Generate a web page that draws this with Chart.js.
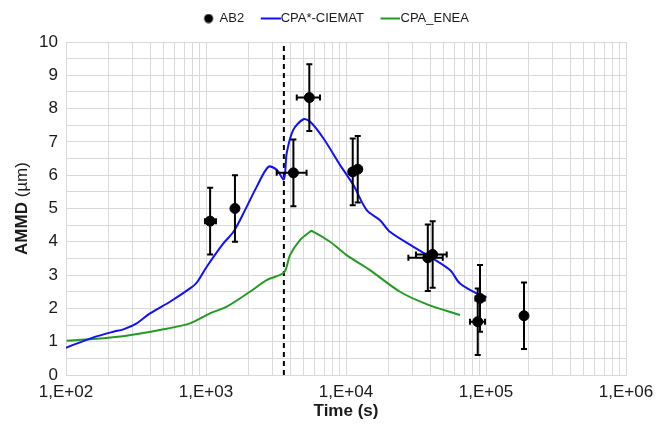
<!DOCTYPE html>
<html>
<head>
<meta charset="utf-8">
<script src="https://cdn.jsdelivr.net/npm/chart.js@4.4.0/dist/chart.umd.min.js"></script>
<style>
	html, body { margin: 0; padding: 0; background: #fff; }
	#wrap { width: 670px; height: 431px; }
</style>
</head>
<body>
<div id="wrap"><canvas id="ammd-chart" width="670" height="431"></canvas></div>
<script>
// AB2 measurements (time in s, AMMD in µm)
const ab2Time = [1070, 1610, 4210, 5470, 11170, 12130, 38400, 41600, 90600, 87300, 186800];
const ab2Ammd = [4.62, 5.0, 6.07, 8.33, 6.10, 6.18, 3.52, 3.62, 2.30, 1.60, 1.78];
const ab2AmmdErr = [1.0, 1.0, 1.0, 1.0, 1.0, 1.0, 1.0, 1.0, 1.0, 1.0, 1.0];
const ab2TimeLow = [984, 1610, 3200, 4450, 10500, 11400, 27900, 31600, 84000, 76900, 186800];
const ab2TimeHigh = [1178, 1610, 5230, 6520, 11900, 12900, 49100, 52400, 98000, 98400, 186800];

// CPA*-CIEMAT
const ciematTime = [100, 157, 218, 257, 320, 398, 553, 769, 857, 1012, 1330, 1570, 1900, 2300, 2790,
	3200, 3600, 3770, 4200, 4960, 5530, 6890, 9060, 11270, 14060, 17500, 20600, 30300, 39800,
	55300, 65200, 90600, 101000];
const ciematAmmd = [0.82, 1.13, 1.30, 1.37, 1.55, 1.85, 2.20, 2.60, 2.77, 3.25, 3.95, 4.30, 4.95, 5.65, 6.25,
	6.16, 5.88, 6.66, 7.36, 7.68, 7.61, 7.11, 6.31, 5.71, 4.95, 4.65, 4.30, 3.85, 3.55,
	3.15, 2.75, 2.40, 2.33];

// CPA_ENEA
const eneaTime = [101, 157, 271, 469, 769, 1068, 1406, 2060, 2710, 3610, 3980, 4690, 5530, 5690,
	7690, 10100, 14840, 24300, 37600, 65200];
const eneaAmmd = [1.03, 1.08, 1.18, 1.35, 1.55, 1.85, 2.05, 2.50, 2.85, 3.08, 3.60, 4.05, 4.30, 4.33,
	4.00, 3.60, 3.15, 2.50, 2.13, 1.80];

// vertical dashed marker
const markerTime = 3600;
const markerRange = [0, 10];

// axes
const timeDecades = [100, 1000, 10000, 100000, 1000000];
const timeLabels = ['1,E+02', '1,E+03', '1,E+04', '1,E+05', '1,E+06'];
const timeMinor = [2, 3, 4, 5, 6, 7, 8, 9];
const yTitleBold = 'AMMD ';
const yTitleUnit = '(µm)';

const timeTicks = [];
timeDecades.forEach(function (d, i) {
	timeTicks.push(d);
	if (i < timeDecades.length - 1) {
		timeMinor.forEach(function (m) { timeTicks.push(d * m); });
	}
});

const toPoints = (xs, ys) => xs.map((x, i) => ({ x: x, y: ys[i] }));

const fontFamily = "'Liberation Sans', Arial, sans-serif";
const textColor = '#1a1a1a';
const gridColor = '#d9d9d9';

// legend markers
function legendMark(kind, color) {
	const c = document.createElement('canvas');
	c.width = 33;
	c.height = 10;
	const g = c.getContext('2d');
	g.fillStyle = color;
	if (kind === 'dot') {
		g.beginPath();
		g.arc(22, 5, 4.5, 0, Math.PI * 2);
		g.fill();
	} else {
		g.fillRect(13, 4, 20, 2);
	}
	return c;
}
const legendMarks = [legendMark('dot', '#000'), legendMark('line', '#1010ff'), legendMark('line', '#239b23')];

// Error bars for AB2
const errorBars = {
	id: 'errorBars',
	afterDatasetsDraw(chart) {
		const { ctx } = chart;
		const x = chart.scales.x;
		const y = chart.scales.y;
		ctx.save();
		ctx.strokeStyle = '#000';
		ctx.lineWidth = 2;
		ab2Time.forEach(function (t, i) {
			const px = x.getPixelForValue(t);
			const py = y.getPixelForValue(ab2Ammd[i]);
			const top = y.getPixelForValue(ab2Ammd[i] + ab2AmmdErr[i]);
			const bottom = y.getPixelForValue(ab2Ammd[i] - ab2AmmdErr[i]);
			ctx.beginPath();
			ctx.moveTo(px, top); ctx.lineTo(px, bottom);
			ctx.moveTo(px - 3, top); ctx.lineTo(px + 3, top);
			ctx.moveTo(px - 3, bottom); ctx.lineTo(px + 3, bottom);
			if (ab2TimeLow[i] < ab2TimeHigh[i]) {
				const left = x.getPixelForValue(ab2TimeLow[i]);
				const right = x.getPixelForValue(ab2TimeHigh[i]);
				ctx.moveTo(left, py); ctx.lineTo(right, py);
				ctx.moveTo(left, py - 3); ctx.lineTo(left, py + 3);
				ctx.moveTo(right, py - 3); ctx.lineTo(right, py + 3);
			}
			ctx.stroke();
		});
		ctx.restore();
	},
};

// y axis title: bold name, regular unit
const yTitle = {
	id: 'yTitle',
	afterDraw(chart) {
		const { ctx, chartArea } = chart;
		const cy = (chartArea.top + chartArea.bottom) / 2;
		ctx.save();
		ctx.translate(22, cy);
		ctx.rotate(-Math.PI / 2);
		ctx.fillStyle = textColor;
		ctx.textBaseline = 'middle';
		ctx.textAlign = 'left';
		ctx.font = 'bold 17px ' + fontFamily;
		const wBold = ctx.measureText(yTitleBold).width;
		ctx.font = '17px ' + fontFamily;
		const wUnit = ctx.measureText(yTitleUnit).width;
		const start = -(wBold + wUnit) / 2;
		ctx.font = 'bold 17px ' + fontFamily;
		ctx.fillText(yTitleBold, start, 0);
		ctx.font = '17px ' + fontFamily;
		ctx.fillText(yTitleUnit, start + wBold, 0);
		ctx.restore();
	},
};

// Legend spacing / placement
const legendTweak = {
	id: 'legendTweak',
	afterInit(chart) {
		if (!chart.legend) return;
		const originalFit = chart.legend.fit;
		chart.legend.fit = function () {
			originalFit.call(this);
			this.height += 7;
		};
	},
	afterLayout(chart) {
		if (!chart.legend) return;
		chart.legend.left += 18;
		chart.legend.right += 18;
	},
};

const ctx = document.getElementById('ammd-chart');

new Chart(ctx, {
	type: 'line',
	data: {
		datasets: [
			{
				label: 'AB2',
				data: toPoints(ab2Time, ab2Ammd),
				showLine: false,
				pointStyle: 'circle',
				pointRadius: 5,
				pointBackgroundColor: '#000',
				pointBorderColor: '#000',
				borderColor: '#000',
				backgroundColor: '#000',
			},
			{
				label: 'CPA*-CIEMAT',
				data: toPoints(ciematTime, ciematAmmd),
				borderColor: '#1010ff',
				backgroundColor: '#1010ff',
				borderWidth: 2,
				pointRadius: 0,
				tension: 0.3,
				fill: false,
			},
			{
				label: 'CPA_ENEA',
				data: toPoints(eneaTime, eneaAmmd),
				borderColor: '#239b23',
				backgroundColor: '#239b23',
				borderWidth: 2,
				pointRadius: 0,
				tension: 0.3,
				fill: false,
			},
			{
				label: 'marker',
				data: markerRange.map(v => ({ x: markerTime, y: v })),
				borderColor: '#000',
				borderWidth: 2,
				borderDash: [5, 4],
				pointRadius: 0,
				fill: false,
			},
		],
	},
	plugins: [errorBars, legendTweak, yTitle],
	options: {
		responsive: false,
		animation: false,
		devicePixelRatio: 1,
		layout: {
			padding: { top: 2, right: 44, bottom: 0, left: 0 },
		},
		plugins: {
			tooltip: { enabled: false },
			legend: {
				position: 'top',
				labels: {
					usePointStyle: true,
					pointStyleWidth: 20,
					boxHeight: 10,
					padding: 10,
					color: textColor,
					font: { family: fontFamily, size: 13 },
					filter: item => item.datasetIndex < 3,
					generateLabels(chart) {
						const items = Chart.defaults.plugins.legend.labels.generateLabels(chart);
						items.forEach(function (item) {
							if (item.datasetIndex < 3) item.pointStyle = legendMarks[item.datasetIndex];
						});
						return items;
					},
				},
			},
		},
		scales: {
			x: {
				type: 'logarithmic',
				min: timeDecades[0],
				max: timeDecades[timeDecades.length - 1],
				afterBuildTicks(scale) {
					scale.ticks = timeTicks.map(v => ({ value: v }));
				},
				afterFit(scale) {
					scale.height = 56;
				},
				grid: { color: gridColor, drawTicks: false },
				border: { color: gridColor },
				ticks: {
					autoSkip: false,
					maxRotation: 0,
					padding: 7,
					color: textColor,
					font: { family: fontFamily, size: 17 },
					callback(value) {
						const i = timeDecades.indexOf(value);
						return i >= 0 ? timeLabels[i] : '';
					},
				},
				title: {
					display: true,
					text: 'Time (s)',
					color: textColor,
					font: { family: fontFamily, size: 17, weight: 'bold' },
					padding: { top: 0, bottom: 9 },
				},
			},
			y: {
				min: 0,
				max: 10,
				afterFit(scale) {
					scale.width = 66;
				},
				grid: { color: gridColor, drawTicks: false },
				border: { color: gridColor },
				ticks: {
					stepSize: 0.5,
					autoSkip: false,
					padding: 8,
					color: textColor,
					font: { family: fontFamily, size: 17 },
					callback: v => (Number.isInteger(v) ? v : ''),
				},
			},
		},
	},
});
</script>
</body>
</html>
